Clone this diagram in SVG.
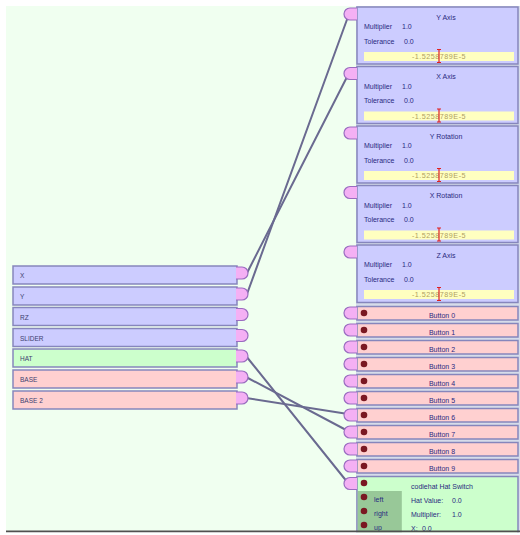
<svg xmlns="http://www.w3.org/2000/svg" width="520" height="535" viewBox="0 0 520 535">
<style>
text{font-family:"Liberation Sans",Arial,sans-serif;}
.lbl{font-size:6.5px;fill:#404070;}
.t{font-size:7px;fill:#2a2a80;}
.ttl{font-size:7px;fill:#2a2a80;text-anchor:middle;}
.val{font-size:7.2px;fill:#b0a060;text-anchor:middle;letter-spacing:0.5px;}
.blue{fill:#ccccff;stroke:#8686bc;stroke-width:1.5;}
.pink{fill:#ffd0d0;stroke:#8686bc;stroke-width:1.5;}
.green{fill:#ccffcc;stroke:#8686bc;stroke-width:1.5;}
.port{fill:#f4b0f4;stroke:#9a6cc0;stroke-width:1.2;}
.dot{fill:#7a1822;}
.bar{fill:#ffffc0;}
.cur{stroke:#e02020;stroke-width:1.2;fill:none;}
.wire{stroke:#6a6a90;stroke-width:2;fill:none;stroke-linecap:round;}
</style>
<defs>
<path id="pl" class="port" d="M357,0 H350 A6,6 0 0 0 350,12 H357"/>
<path id="pr" class="port" d="M236,0 H242 A6,6 0 0 1 242,12 H236"/>
<g id="cursor"><path class="cur" d="M439,0 V14 M437,0.5 H441 M437,13.5 H441"/></g>
</defs>
<rect x="0" y="0" width="520" height="535" fill="#ffffff"/>
<rect x="6" y="6" width="514" height="526" fill="#f0fff0"/>
<rect x="356" y="6" width="164" height="526" fill="#d6dcea"/>

<g id="connectors">
<line class="wire" x1="247" y1="273" x2="349" y2="73"/>
<line class="wire" x1="247" y1="294" x2="349" y2="14"/>
<line class="wire" x1="246" y1="356" x2="348" y2="483"/>
<line class="wire" x1="246" y1="377" x2="348" y2="431"/>
<line class="wire" x1="246" y1="398" x2="348" y2="414"/>
</g>

<g id="node-x"><rect class="blue" x="13" y="266" width="224" height="18"/><text class="lbl" x="20" y="278">X</text><use href="#pr" y="267"/></g>
<g id="node-y"><rect class="blue" x="13" y="287" width="224" height="18"/><text class="lbl" x="20" y="299">Y</text><use href="#pr" y="288"/></g>
<g id="node-rz"><rect class="blue" x="13" y="307.5" width="224" height="18"/><text class="lbl" x="20" y="319.5">RZ</text><use href="#pr" y="308.5"/></g>
<g id="node-slider"><rect class="blue" x="13" y="328.5" width="224" height="18"/><text class="lbl" x="20" y="340.5">SLIDER</text><use href="#pr" y="329.5"/></g>
<g id="node-hat"><rect class="green" x="13" y="349" width="224" height="18"/><text class="lbl" x="20" y="361">HAT</text><use href="#pr" y="350"/></g>
<g id="node-base"><rect class="pink" x="13" y="370" width="224" height="18"/><text class="lbl" x="20" y="382">BASE</text><use href="#pr" y="371"/></g>
<g id="node-base2"><rect class="pink" x="13" y="391" width="224" height="18"/><text class="lbl" x="20" y="403">BASE 2</text><use href="#pr" y="392"/></g>

<g id="node-yaxis"><rect class="blue" x="357" y="7" width="161" height="57"/><use href="#pl" y="8"/>
<text class="ttl" x="446" y="19.5">Y Axis</text><text class="t" x="364" y="29">Multiplier</text><text class="t" x="402" y="29">1.0</text><text class="t" x="364" y="43.5">Tolerance</text><text class="t" x="404" y="43.5">0.0</text>
<rect class="bar" x="364" y="52" width="150" height="9"/><text class="val" x="439" y="59">-1.5258789E-5</text><use href="#cursor" y="49"/></g>
<g id="node-xaxis"><rect class="blue" x="357" y="66.5" width="161" height="57"/><use href="#pl" y="67.5"/>
<text class="ttl" x="446" y="79">X Axis</text><text class="t" x="364" y="88.5">Multiplier</text><text class="t" x="402" y="88.5">1.0</text><text class="t" x="364" y="103">Tolerance</text><text class="t" x="404" y="103">0.0</text>
<rect class="bar" x="364" y="111.5" width="150" height="9"/><text class="val" x="439" y="118.5">-1.5258789E-5</text><use href="#cursor" y="108.5"/></g>
<g id="node-yrot"><rect class="blue" x="357" y="126" width="161" height="57"/><use href="#pl" y="127"/>
<text class="ttl" x="446" y="138.5">Y Rotation</text><text class="t" x="364" y="148">Multiplier</text><text class="t" x="402" y="148">1.0</text><text class="t" x="364" y="162.5">Tolerance</text><text class="t" x="404" y="162.5">0.0</text>
<rect class="bar" x="364" y="171" width="150" height="9"/><text class="val" x="439" y="178">-1.5258789E-5</text><use href="#cursor" y="168"/></g>
<g id="node-xrot"><rect class="blue" x="357" y="185.5" width="161" height="57"/><use href="#pl" y="186.5"/>
<text class="ttl" x="446" y="198">X Rotation</text><text class="t" x="364" y="207.5">Multiplier</text><text class="t" x="402" y="207.5">1.0</text><text class="t" x="364" y="222">Tolerance</text><text class="t" x="404" y="222">0.0</text>
<rect class="bar" x="364" y="230.5" width="150" height="9"/><text class="val" x="439" y="237.5">-1.5258789E-5</text><use href="#cursor" y="227.5"/></g>
<g id="node-zaxis"><rect class="blue" x="357" y="245" width="161" height="57.5"/><use href="#pl" y="246"/>
<text class="ttl" x="446" y="257.5">Z Axis</text><text class="t" x="364" y="267">Multiplier</text><text class="t" x="402" y="267">1.0</text><text class="t" x="364" y="281.5">Tolerance</text><text class="t" x="404" y="281.5">0.0</text>
<rect class="bar" x="364" y="290" width="150" height="9"/><text class="val" x="439" y="297">-1.5258789E-5</text><use href="#cursor" y="287"/></g>

<g id="node-b0"><rect class="pink" x="357" y="306.5" width="161" height="13.5"/><use href="#pl" y="307"/><circle class="dot" cx="364" cy="313" r="3.3"/><text class="ttl" x="442" y="317.5">Button 0</text></g>
<g id="node-b1"><rect class="pink" x="357" y="323.5" width="161" height="13.5"/><use href="#pl" y="324"/><circle class="dot" cx="364" cy="330" r="3.3"/><text class="ttl" x="442" y="334.5">Button 1</text></g>
<g id="node-b2"><rect class="pink" x="357" y="340.5" width="161" height="13.5"/><use href="#pl" y="341"/><circle class="dot" cx="364" cy="347" r="3.3"/><text class="ttl" x="442" y="351.5">Button 2</text></g>
<g id="node-b3"><rect class="pink" x="357" y="357.5" width="161" height="13.5"/><use href="#pl" y="358"/><circle class="dot" cx="364" cy="364" r="3.3"/><text class="ttl" x="442" y="368.5">Button 3</text></g>
<g id="node-b4"><rect class="pink" x="357" y="374.5" width="161" height="13.5"/><use href="#pl" y="375"/><circle class="dot" cx="364" cy="381" r="3.3"/><text class="ttl" x="442" y="385.5">Button 4</text></g>
<g id="node-b5"><rect class="pink" x="357" y="391.5" width="161" height="13.5"/><use href="#pl" y="392"/><circle class="dot" cx="364" cy="398" r="3.3"/><text class="ttl" x="442" y="402.5">Button 5</text></g>
<g id="node-b6"><rect class="pink" x="357" y="408.5" width="161" height="13.5"/><use href="#pl" y="409"/><circle class="dot" cx="364" cy="415" r="3.3"/><text class="ttl" x="442" y="419.5">Button 6</text></g>
<g id="node-b7"><rect class="pink" x="357" y="425.5" width="161" height="13.5"/><use href="#pl" y="426"/><circle class="dot" cx="364" cy="432" r="3.3"/><text class="ttl" x="442" y="436.5">Button 7</text></g>
<g id="node-b8"><rect class="pink" x="357" y="442.5" width="161" height="13.5"/><use href="#pl" y="443"/><circle class="dot" cx="364" cy="449" r="3.3"/><text class="ttl" x="442" y="453.5">Button 8</text></g>
<g id="node-b9"><rect class="pink" x="357" y="459.5" width="161" height="13.5"/><use href="#pl" y="460"/><circle class="dot" cx="364" cy="466" r="3.3"/><text class="ttl" x="442" y="470.5">Button 9</text></g>

<g id="node-hatswitch"><rect class="green" x="357" y="476.5" width="161" height="58"/><use href="#pl" y="477.5"/>
<rect x="357.8" y="491" width="44" height="44" fill="#98c898"/>
<circle class="dot" cx="364" cy="483" r="3.3"/><circle class="dot" cx="364" cy="497" r="3.3"/><circle class="dot" cx="364" cy="511" r="3.3"/><circle class="dot" cx="364" cy="525" r="3.3"/>
<text class="t" x="374" y="502">left</text><text class="t" x="374" y="516">right</text><text class="t" x="374" y="530">up</text>
<text class="t" x="411" y="488.5">codiehat Hat Switch</text>
<text class="t" x="411" y="503">Hat Value:</text><text class="t" x="452" y="503">0.0</text>
<text class="t" x="411" y="517">Multiplier:</text><text class="t" x="452" y="517">1.0</text>
<text class="t" x="411" y="531">X:</text><text class="t" x="422" y="531">0.0</text></g>

<rect x="6" y="530.5" width="514" height="2" fill="#505050"/>
<rect x="0" y="532.5" width="520" height="2.5" fill="#ffffff"/>
</svg>
